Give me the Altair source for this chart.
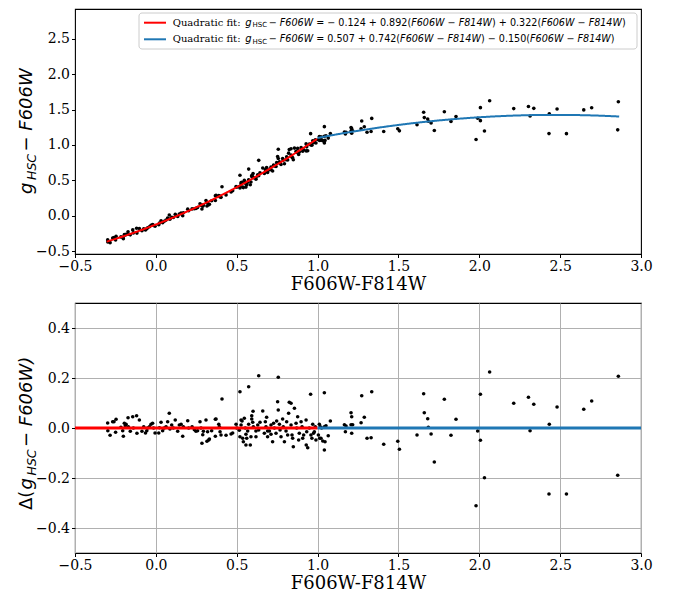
import altair as alt
import numpy as np
import pandas as pd

# ---------------- data (colour, residual from the fit) ----------------
xA = [
    -0.298, -0.297, -0.283, -0.267, -0.259, -0.246, -0.249, -0.216, -0.205, -0.201,
    -0.195, -0.189, -0.184, -0.172, -0.170, -0.158, -0.143, -0.139, -0.119, -0.117,
    -0.102, -0.086, -0.075, -0.064, -0.056, -0.051, -0.040, -0.030, -0.020, -0.014,
    -0.005, 0.018, 0.022, 0.032, 0.042, 0.052, 0.063, 0.073, 0.083, 0.087,
    0.098, 0.108, 0.120, 0.135, 0.145, 0.156, 0.166, 0.170, 0.197, 0.203,
    0.224, 0.238, 0.248, 0.258, 0.273, 0.279, 0.290, 0.294, 0.310, 0.316,
    0.331, 0.345, 0.368, 0.368]
rA = [
    0.020, -0.011, -0.029, 0.025, 0.025, 0.035, -0.017, 0.003, -0.011, -0.033,
    0.019, 0.009, 0.015, 0.041, 0.005, -0.013, 0.045, 0.000, 0.049, -0.021,
    0.032, -0.013, 0.005, -0.020, -0.011, 0.000, 0.005, 0.015, 0.019, 0.000,
    -0.020, -0.020, 0.001, 0.023, -0.011, 0.000, 0.005, 0.025, 0.059, -0.004,
    0.012, 0.000, 0.032, -0.013, 0.012, 0.015, -0.033, 0.005, 0.029, 0.000,
    0.005, -0.007, -0.013, -0.011, 0.025, 0.000, -0.027, -0.013, 0.032, -0.053,
    -0.044, -0.011, 0.035, -0.033]

xB = [
    0.320, 0.327, 0.372, 0.389, 0.393, 0.397, 0.403, 0.409, 0.434, 0.465,
    0.475, 0.496, 0.500, 0.516, 0.520, 0.527, 0.533, 0.537, 0.541, 0.547,
    0.553, 0.557, 0.557, 0.562, 0.568, 0.574, 0.584, 0.588, 0.593, 0.593,
    0.599, 0.603, 0.619, 0.619, 0.630, 0.636, 0.644, 0.661, 0.671, 0.677,
    0.681, 0.685, 0.691, 0.691, 0.702, 0.712, 0.712, 0.722, 0.728, 0.733,
    0.743, 0.747, 0.753, 0.757, 0.764, 0.768, 0.774, 0.784, 0.788, 0.795,
    0.805, 0.809, 0.815, 0.821, 0.825, 0.836, 0.836, 0.842, 0.846, 0.850,
    0.857, 0.867, 0.871, 0.877, 0.883, 0.887, 0.898, 0.904, 0.908, 0.914,
    0.929, 0.933, 0.939, 0.949, 0.959, 0.965, 0.970, 0.980, 0.986, 0.975,
    0.990, 0.520, 0.574, 0.636, 0.757, 0.957, 0.601, 0.527, 0.285, 0.930]
rB = [
    -0.015, -0.048, 0.036, 0.015, 0.005, -0.015, -0.028, 0.116, -0.029, -0.024,
    -0.020, 0.015, 0.000, -0.009, -0.035, 0.012, 0.028, -0.041, -0.055, 0.039,
    0.000, -0.068, -0.025, -0.041, -0.012, 0.015, -0.068, -0.035, 0.049, 0.036,
    0.023, 0.005, -0.012, -0.035, 0.012, -0.008, 0.023, 0.068, -0.021, 0.025,
    0.005, 0.043, -0.012, -0.035, -0.012, 0.012, -0.025, -0.055, 0.019, 0.000,
    -0.021, 0.028, 0.105, 0.072, 0.015, -0.008, -0.035, 0.036, 0.005, -0.055,
    -0.012, 0.025, -0.028, 0.059, 0.103, 0.099, 0.012, -0.028, -0.041, -0.075,
    0.079, 0.019, 0.000, 0.045, -0.048, -0.021, 0.025, 0.005, -0.041, -0.028,
    0.032, -0.015, -0.079, 0.000, -0.028, -0.041, 0.015, -0.015, 0.005, -0.021,
    -0.048, 0.145, 0.165, 0.209, 0.203, 0.135, 0.067, 0.032, -0.061, -0.068]

xC = [
    1.005, 1.011, 1.013, 1.017, 1.021, 1.025, 1.032, 1.042, 1.042, 1.046,
    1.052, 1.066, 1.079, 1.042, 1.166, 1.176, 1.172, 1.207, 1.211, 1.207,
    1.217, 1.211, 1.269, 1.273, 1.289, 1.306, 1.331, 1.335, 1.409, 1.496,
    1.506, 1.615, 1.656, 1.660, 1.681, 1.685, 1.702, 1.722, 1.784, 1.825,
    1.856, 1.990, 2.007, 2.007, 2.032, 1.980, 2.064, 2.213, 2.304, 2.314,
    2.337, 2.433, 2.431, 2.481, 2.539, 2.646, 2.695, 2.856, 2.860]
rC = [
    -0.028, 0.015, -0.041, 0.005, -0.041, 0.000, -0.052, -0.088, 0.005, -0.055,
    0.009, -0.031, 0.028, 0.141, 0.013, 0.008, -0.015, 0.061, 0.045, 0.013,
    0.013, -0.021, 0.021, 0.129, 0.043, -0.041, -0.039, 0.145, -0.065, -0.053,
    -0.085, -0.028, 0.137, 0.061, 0.037, 0.003, -0.024, -0.136, 0.115, -0.029,
    0.035, -0.012, 0.135, -0.049, -0.199, -0.311, 0.224, 0.099, 0.123, -0.011,
    0.095, 0.015, -0.264, 0.084, -0.264, 0.075, 0.108, -0.189, 0.207]

# quadratic fits (from the legend)
red_coef = [-0.124, 0.892, 0.322]
blue_coef = [0.507, 0.742, -0.150]
split_x = 1.0
red_range = [-0.304, 1.0]
blue_range = [1.0, 2.865]
resid_red_range = [-0.5, 1.0]
resid_blue_range = [1.0, 3.0]

x_ticks = [-0.5, 0.0, 0.5, 1.0, 1.5, 2.0, 2.5, 3.0]
y_ticks_top = [-0.5, 0.0, 0.5, 1.0, 1.5, 2.0, 2.5]
y_ticks_bot = [-0.4, -0.2, 0.0, 0.2, 0.4]
x_title = "F606W-F814W"
legend_prefix = "Quadratic fit:"
legend_runs = [
    [("−", 0), (" F606W", 1), (" = − 0.124 + 0.892(", 0), ("F606W", 1), (" − ", 0),
     ("F814W", 1), (") + 0.322(", 0), ("F606W", 1), (" − ", 0), ("F814W", 1), (")", 0)],
    [("−", 0), (" F606W", 1), (" = 0.507 + 0.742(", 0), ("F606W", 1), (" − ", 0),
     ("F814W", 1), (") − 0.150(", 0), ("F606W", 1), (" − ", 0), ("F814W", 1), (")", 0)],
]
legend_colors = ["#ff0000", "#1f77b4"]

# ---------------- derived table ----------------
X = np.array(xA + xB + xC)
R = np.array(rA + rB + rC)


def poly(c, x):
    return c[0] + c[1] * x + c[2] * x * x


fit = np.where(X < split_x, poly(red_coef, X), poly(blue_coef, X))
pts = pd.DataFrame({"x": X, "res": R, "y": fit + R})

RED, BLUE = legend_colors
W_PLOT, H_TOP, H_BOT = 566, 245, 250
SANS, SERIF = "DejaVu Sans", "DejaVu Serif"
one = pd.DataFrame({"k": [0]})

minus_expr = "replace(format(datum.value, '.1f'), '-', '\u2212')"
xs = alt.Scale(domain=[-0.5, 3.0], nice=False, zero=False)
ys_top = alt.Scale(domain=[-0.54, 2.92], nice=False, zero=False)
ys_bot = alt.Scale(domain=[-0.5, 0.5], nice=False, zero=False)


def xaxis(grid):
    return alt.Axis(values=x_ticks, labelExpr=minus_expr, title=x_title, grid=grid)


def yaxis(vals, grid):
    return alt.Axis(values=vals, labelExpr=minus_expr, title=None, grid=grid)


def label(text, x, y, size, font=SANS, style="normal", angle=0, baseline="middle"):
    props = dict(text=text, font=font, fontSize=size, fontStyle=style, align="left",
                 baseline=baseline, color="black")
    if angle:
        props["angle"] = angle
    return alt.Chart(one).mark_text(**props).encode(x=alt.value(x), y=alt.value(y))


EM = {" ": 0.318, "−": 0.838, "=": 0.838, "+": 0.838, ".": 0.318, "(": 0.390, ")": 0.390,
      "F": 0.575, "W": 0.989}


def run_width(s, size):
    return sum(EM.get(ch, 0.636) for ch in s) * size


def math_runs(runs, x0, y, size):
    out = []
    cx = x0
    for txt, it in runs:
        lead = len(txt) - len(txt.lstrip(" "))
        out.append(label(txt.strip(" "), cx + run_width(" " * lead, size), y, size,
                         style="italic" if it else "normal"))
        cx += run_width(txt, size)
    return out


def anchor():
    return alt.Chart(one).mark_rule(opacity=0).encode(
        x=alt.value(-66), y=alt.value(100), y2=alt.value(110))


def curve(coef, rng, color):
    return alt.Chart(alt.sequence(rng[0], rng[1] + 0.0005, 0.005, as_="x")).transform_calculate(
        y=f"{coef[0]} + ({coef[1]})*datum.x + ({coef[2]})*datum.x*datum.x"
    ).mark_line(color=color, strokeWidth=2).encode(
        x=alt.X("x:Q", scale=xs, axis=xaxis(False)),
        y=alt.Y("y:Q", scale=ys_top, axis=yaxis(y_ticks_top, False)))


# ---------------- top panel ----------------
top_pts = alt.Chart(pts).mark_circle(size=13, color="black", opacity=1).encode(
    x=alt.X("x:Q", scale=xs, axis=xaxis(False)),
    y=alt.Y("y:Q", scale=ys_top, axis=yaxis(y_ticks_top, False)))

legend_layers = [
    alt.Chart(one).mark_rect(fill="white", fillOpacity=0.8, stroke="#cccccc", strokeWidth=1,
                             cornerRadius=3).encode(
        x=alt.value(64), x2=alt.value(562), y=alt.value(4), y2=alt.value(40))
]
for i, ly in enumerate([13.7, 30.3]):
    legend_layers.append(alt.Chart(one).mark_rule(color=legend_colors[i], strokeWidth=2).encode(
        x=alt.value(69), x2=alt.value(91), y=alt.value(ly)))
    legend_layers.append(label(legend_prefix, 97.7, ly, 10, font=SERIF))
    legend_layers.append(label("g", 170.3, ly, 10, style="italic"))
    legend_layers.append(label("HSC", 177.6, ly + 2.6, 7))
    legend_layers += math_runs(legend_runs[i], 193.7, ly, 9.6)

top_title = [
    label("g", -43, 185, 18, style="italic", angle=270, baseline="alphabetic"),
    label("HSC", -39, 171, 12.5, style="italic", angle=270, baseline="alphabetic"),
    label("− F606W", -43, 142.5, 18, style="italic", angle=270, baseline="alphabetic"),
]

top = alt.layer(
    top_pts, curve(red_coef, red_range, RED), curve(blue_coef, blue_range, BLUE),
    *legend_layers, *top_title, anchor()
).properties(width=W_PLOT, height=H_TOP)

# ---------------- bottom panel ----------------
bot_pts = alt.Chart(pts).mark_circle(size=13, color="black", opacity=1).encode(
    x=alt.X("x:Q", scale=xs, axis=xaxis(True)),
    y=alt.Y("res:Q", scale=ys_bot, axis=yaxis(y_ticks_bot, True)))


def hline(rng, color):
    d = pd.DataFrame({"x0": [rng[0]], "x1": [rng[1]], "r": [0.0]})
    return alt.Chart(d).mark_rule(color=color, strokeWidth=3, strokeCap="butt").encode(
        x=alt.X("x0:Q", scale=xs, axis=xaxis(True)), x2="x1:Q",
        y=alt.Y("r:Q", scale=ys_bot, axis=yaxis(y_ticks_bot, True)))


bot_title = [
    label("Δ(", -43, 207, 18, angle=270, baseline="alphabetic"),
    label("g", -43, 186.5, 18, style="italic", angle=270, baseline="alphabetic"),
    label("HSC", -39, 172.5, 12.5, style="italic", angle=270, baseline="alphabetic"),
    label("− F606W)", -43, 144, 18, style="italic", angle=270, baseline="alphabetic"),
]

bottom = alt.layer(
    bot_pts, hline(resid_red_range, RED), hline(resid_blue_range, BLUE), *bot_title, anchor()
).properties(width=W_PLOT, height=H_BOT)

chart = alt.vconcat(top, bottom, spacing=7).properties(
    padding={"left": 0, "top": 0, "right": 5, "bottom": 5}
).configure_axis(
    labelFont=SERIF, labelFontSize=14, labelColor="black", tickColor="black", tickSize=3.5,
    tickWidth=1, domain=False, labelPadding=2, titleFont=SERIF, titleFontSize=18,
    titleFontWeight="normal", titleColor="black", titlePadding=2, labelFlush=False,
    labelOverlap=False, gridColor="#b0b0b0", gridWidth=1, gridOpacity=1
).configure_view(stroke="black", strokeWidth=1.1)

chart.save("out.html", embed_options={"renderer": "svg", "actions": False})
